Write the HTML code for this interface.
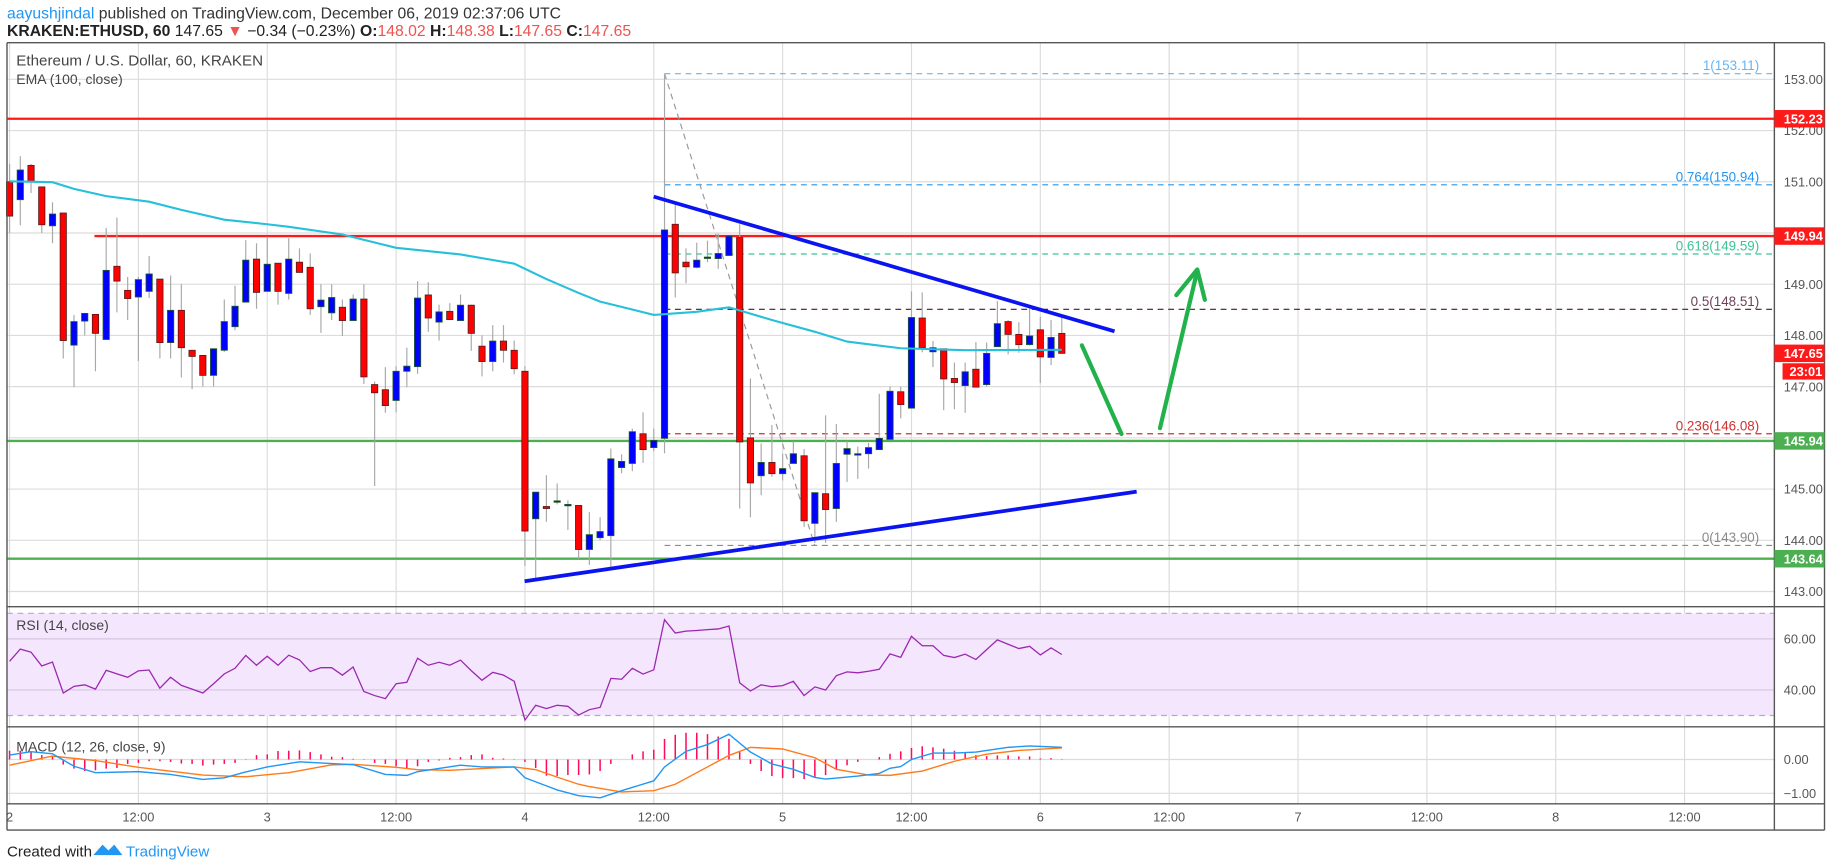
<!DOCTYPE html>
<html><head><meta charset="utf-8"><style>
html,body{margin:0;padding:0;background:#fff;}
svg{display:block;font-family:"Liberation Sans",sans-serif;}
</style></head><body>
<svg id="chart" width="1828" height="868" viewBox="0 0 1568 744" preserveAspectRatio="none" xmlns="http://www.w3.org/2000/svg">
<text x="6" y="16" font-size="13.5" fill="#333"><tspan fill="#2196f3">aayushjindal</tspan> published on TradingView.com, December 06, 2019 02:37:06 UTC</text>
<text x="6" y="31" font-size="13.5" fill="#222"><tspan font-weight="bold">KRAKEN:ETHUSD, 60</tspan> 147.65 <tspan fill="#ef5350">▼</tspan> −0.34 (−0.23%) <tspan font-weight="bold">O:</tspan><tspan fill="#ef5350">148.02</tspan> <tspan font-weight="bold">H:</tspan><tspan fill="#ef5350">148.38</tspan> <tspan font-weight="bold">L:</tspan><tspan fill="#ef5350">147.65</tspan> <tspan font-weight="bold">C:</tspan><tspan fill="#ef5350">147.65</tspan></text>
<rect x="6" y="520" width="1516" height="103" fill="none"/>
<g id="grid"></g>
<g id="levels"></g>
<g id="price"></g>
<g id="rsi"></g>
<g id="macd"></g>
<g id="frame"></g>
<g id="axis"></g>
<text x="14" y="56" font-size="13" fill="#444">Ethereum / U.S. Dollar, 60, KRAKEN</text>
<text x="14" y="72" font-size="12" fill="#444">EMA (100, close)</text>
<text x="14" y="540" font-size="12" fill="#444">RSI (14, close)</text>
<text x="14" y="644" font-size="12" fill="#444">MACD (12, 26, close, 9)</text>
<text x="6" y="734" font-size="13" fill="#222">Created with</text>
<path d="M80 733 L88 724 L93 729 L98 724 L105 733 Z" fill="#2196f3"/>
<text x="108" y="734" font-size="13" fill="#2196f3">TradingView</text>
</svg>
<script>
const opens=[151.0,150.65,151.32,150.9,150.14,150.39,147.81,148.28,148.41,147.92,149.35,148.88,148.75,148.86,149.1,147.86,148.49,147.71,147.61,147.22,147.71,148.17,148.65,149.49,148.86,149.41,148.82,149.43,149.33,148.56,148.44,148.55,148.29,148.71,147.04,146.94,146.73,147.3,147.39,148.79,148.26,148.47,148.29,148.59,147.79,147.49,147.89,147.71,147.3,144.42,144.66,144.76,144.70,144.68,143.82,144.05,144.09,145.42,145.5,146.08,145.81,145.99,150.17,149.43,149.33,149.52,149.5,149.56,149.91,146.0,145.26,145.52,145.3,145.5,145.65,144.33,144.91,144.62,145.68,145.68,145.69,145.77,145.97,146.9,146.58,148.34,147.68,147.74,147.16,147.02,147.34,147.04,147.78,148.27,148.02,147.82,148.11,147.57,148.04];
const highs=[151.35,151.5,151.35,150.9,150.6,150.39,148.4,148.43,148.41,150.1,150.3,149.14,149.14,149.55,149.1,149.17,149.0,147.71,147.61,147.74,148.7,148.97,149.86,149.8,149.93,149.41,149.9,149.7,149.6,149.0,149.0,148.7,148.8,149.0,147.1,147.38,147.4,147.76,149.06,149.04,148.6,148.63,148.8,148.6,148.0,148.2,148.2,147.9,147.4,144.94,145.27,145.11,144.78,144.68,144.55,144.45,145.79,145.68,146.18,146.5,146.18,153.11,150.58,149.7,149.81,149.85,149.99,149.94,150.17,147.16,145.89,146.25,145.69,145.93,145.78,144.93,146.44,146.27,145.94,145.83,145.9,146.86,147.0,147.0,148.86,148.84,147.89,147.74,147.47,147.47,147.87,147.86,148.67,148.3,148.26,148.56,148.36,148.3,148.35];
const lows=[150.0,150.15,150.78,150.0,149.8,147.55,146.99,148.0,147.3,147.92,148.45,148.3,147.5,148.73,147.55,147.55,147.18,146.95,147.0,147.0,147.68,148.1,148.65,148.52,148.86,148.6,148.7,149.23,148.4,148.05,148.3,147.99,148.29,147.05,145.06,146.49,146.5,146.99,147.25,148.07,147.9,148.3,148.29,147.7,147.2,147.3,147.47,147.24,143.5,143.26,144.36,144.7,144.2,143.64,143.52,144.0,143.48,145.31,145.35,145.51,145.74,145.7,148.74,149.02,149.31,149.43,149.3,149.56,144.62,144.45,144.88,145.24,145.17,145.5,144.26,143.95,143.95,144.36,145.14,145.2,145.4,145.77,145.97,146.38,146.58,147.67,147.38,146.54,146.56,146.49,146.99,147.0,147.78,147.63,147.66,147.8,147.07,147.42,147.65];
const closes=[150.33,151.23,151.01,150.16,150.37,147.9,148.27,148.43,148.04,149.27,149.06,148.72,149.09,149.2,147.86,148.49,147.76,147.59,147.22,147.74,148.27,148.57,149.47,148.84,149.39,148.86,149.49,149.23,148.52,148.69,148.74,148.29,148.71,147.19,146.88,146.63,147.3,147.4,148.73,148.34,148.46,148.31,148.59,148.04,147.49,147.89,147.71,147.35,144.18,144.94,144.62,144.77,144.70,143.82,144.11,144.17,145.59,145.54,146.12,145.77,145.95,150.06,149.22,149.34,149.47,149.53,149.6,149.94,145.92,145.12,145.52,145.3,145.4,145.69,144.38,144.93,144.6,145.5,145.79,145.69,145.81,145.99,146.91,146.65,148.35,147.76,147.76,147.15,147.08,147.29,146.99,147.65,148.23,148.02,147.82,147.99,147.58,147.96,147.65];
const emaIdx=[0,4,6,9,13,16,20,24,26,31,36,42,47,50,53,55,60,64,67,71,75,78,83,89,98];
const emaVal=[151.01,150.99,150.86,150.72,150.61,150.45,150.26,150.17,150.12,149.97,149.71,149.58,149.4,149.1,148.83,148.66,148.4,148.46,148.55,148.3,148.07,147.88,147.75,147.71,147.72];
const rsiVals=[51.25,55.99,54.8,49.4,50.9,38.8,41.4,42.0,40.3,47.7,46.3,45.0,47.5,47.8,40.7,45.0,41.8,40.3,38.8,42.4,46.3,48.5,53.5,49.7,53.2,49.7,53.6,51.8,47.2,48.7,48.7,45.8,49.0,39.4,37.8,36.6,42.4,43.0,52.4,49.7,50.8,49.7,51.7,47.6,43.8,46.9,45.8,43.4,28.2,34.0,32.7,34.0,33.6,30.2,32.3,33.2,44.5,44.2,48.5,46.2,47.9,67.5,62.3,63.0,63.3,63.6,63.9,65.0,42.8,39.6,42.0,41.3,41.7,43.4,37.8,41.2,40.0,45.6,47.1,46.7,47.3,48.1,54.1,52.8,61.0,57.3,57.3,53.5,52.7,54.0,51.9,55.8,59.6,57.9,56.2,57.1,53.7,56.5,53.9];
const macdIdx=[0,2,4,6,8,12,15,18,20,22,24,27,30,32,35,37,38,42,44,47,48,50,51,53,55,57,60,61,63,65,67,69,71,73,75,76,79,81,82,83,84,86,88,90,93,95,98];
const macdVal=[0.13,0.23,0.17,-0.2,-0.39,-0.36,-0.44,-0.59,-0.54,-0.37,-0.22,-0.07,-0.12,-0.15,-0.44,-0.47,-0.36,-0.17,-0.22,-0.22,-0.54,-0.78,-0.9,-1.07,-1.13,-0.92,-0.63,-0.22,0.24,0.44,0.75,0.22,-0.13,-0.29,-0.53,-0.58,-0.49,-0.41,-0.26,-0.21,0,0.19,0.19,0.22,0.36,0.4,0.36];
const sigIdx=[0,4,8,12,18,22,26,30,32,36,38,41,44,47,49,51,53,54,57,60,62,64,67,69,72,75,77,80,82,85,88,91,94,98];
const sigVal=[-0.17,0.1,-0.03,-0.23,-0.46,-0.51,-0.39,-0.16,-0.14,-0.23,-0.3,-0.32,-0.27,-0.22,-0.3,-0.52,-0.73,-0.8,-0.96,-0.92,-0.73,-0.39,0.12,0.36,0.31,0.05,-0.29,-0.46,-0.47,-0.34,-0.05,0.16,0.27,0.34];
const histVals=[0.26,0.26,0.22,0.13,0.1,-0.15,-0.27,-0.34,-0.32,-0.27,-0.25,-0.13,-0.1,-0.05,-0.05,-0.07,-0.12,-0.13,-0.18,-0.15,-0.13,-0.1,-0.01,0.13,0.15,0.25,0.26,0.27,0.22,0.15,0.08,0.07,0.02,0.01,-0.1,-0.13,-0.2,-0.26,-0.2,-0.07,-0.03,0.05,0.07,0.13,0.15,0.05,0.03,0.01,-0.07,-0.25,-0.48,-0.49,-0.46,-0.46,-0.44,-0.34,-0.13,0,0.15,0.24,0.29,0.61,0.73,0.79,0.79,0.75,0.68,0.61,0.22,-0.13,-0.34,-0.49,-0.55,-0.55,-0.58,-0.53,-0.46,-0.29,-0.17,-0.07,0,0.07,0.17,0.24,0.34,0.39,0.36,0.32,0.26,0.22,0.13,0.1,0.12,0.12,0.09,0.09,0.03,0.04,0.01];
const priceTicks=[153,152,151,150,149,148,147,146,145,144,143];
const rsiTicks=[60,40];
const macdTicks=[0,-1];
const dateIdx=[0,12,24,36,48,60,72,84,96,108,120,132,144,156];
const dateLabels=["2","12:00","3","12:00","4","12:00","5","12:00","6","12:00","7","12:00","8","12:00"];
const fibRatios=["1","0.764","0.618","0.5","0.236","0"];
const fibPrices=[153.11,150.94,149.59,148.51,146.08,143.90];
const fibColors=["#64b5f6","#2196f3","#3cc494","#4a1538","#d32f2f","#8a8a8a"];
const redLevels=[152.23,149.94];
const greenLevels=[145.94,143.64];

const NS="http://www.w3.org/2000/svg";
const X=i=>8.2+9.21*i, Y=p=>68+(153-p)*43.9, YR=r=>547.6+(60-r)*2.19, YM=m=>651-m*29;
const L=6,R=1522;
function mk(parent,tag,attrs,text){const e=document.createElementNS(NS,tag);for(const k in attrs)e.setAttribute(k,attrs[k]);if(text!==undefined)e.textContent=text;document.getElementById(parent).appendChild(e);return e;}

// grid
dateIdx.forEach((d,k)=>{const el=mk('grid','line',{x1:X(d),x2:X(d),y1:37,y2:689,stroke:'#dcdcdc','stroke-width':1});

});
priceTicks.forEach(p=>{const el=mk('grid','line',{x1:L,x2:R,y1:Y(p),y2:Y(p),stroke:'#dcdcdc','stroke-width':1});

});
{const el=mk('grid','rect',{x:L,y:YR(70),width:R-L,height:YR(30)-YR(70),fill:'#f3e6fd'});

}
[70,30].forEach(r=>{const el=mk('grid','line',{x1:L,x2:R,y1:YR(r),y2:YR(r),stroke:'#b9a7c4','stroke-dasharray':'5,4'});

});
rsiTicks.forEach(r=>{const el=mk('grid','line',{x1:L,x2:R,y1:YR(r),y2:YR(r),stroke:'#d6c6e0'});

});
macdTicks.forEach(m=>{const el=mk('grid','line',{x1:L,x2:R,y1:YM(m),y2:YM(m),stroke:'#dcdcdc'});

});

// horizontal levels
redLevels.forEach((p,k)=>{const el=mk('levels','line',{x1:k===0?L:81,x2:R,y1:Y(p),y2:Y(p),stroke:'#ff1a1a','stroke-width':2});

});
greenLevels.forEach(p=>{const el=mk('levels','line',{x1:L,x2:R,y1:Y(p),y2:Y(p),stroke:'#4caf50','stroke-width':2});

});
fibPrices.forEach((p,k)=>{const el=mk('levels','line',{x1:X(61),x2:R,y1:Y(p),y2:Y(p),stroke:fibColors[k],'stroke-dasharray':'5,4','stroke-width':1});


const t=mk('levels','text',{x:1509,y:Y(p)-3,'text-anchor':'end','font-size':11.5,fill:fibColors[k]==='#4a1538'?'#6d4258':fibColors[k]},fibRatios[k]+'('+p.toFixed(2)+')');

});
{const el=mk('levels','line',{x1:X(61),y1:Y(fibPrices[0]),x2:X(75),y2:Y(fibPrices[5]),stroke:'#999','stroke-dasharray':'5,4'});

}

// candles
for(let i=0;i<opens.length;i++){const up=closes[i]>=opens[i];
const w=mk('price','line',{x1:X(i),x2:X(i),y1:Y(highs[i]),y2:Y(lows[i]),stroke:'#a8a8a8','stroke-width':1});


const top=Y(Math.max(opens[i],closes[i])),bot=Y(Math.min(opens[i],closes[i]));
const b=mk('price','rect',{x:X(i)-2.7,y:top,width:5.4,height:Math.max(1.2,bot-top),fill:up?'#0000ff':'#ff0000',stroke:up?'#1f5a2a':'#5a1a1a','stroke-width':0.7});

}
{let d='';emaIdx.forEach((ix,k)=>{d+=(k?'L':'M')+X(ix).toFixed(1)+' '+Y(emaVal[k]).toFixed(1)+' ';});
const el=mk('price','path',{d:d,fill:'none',stroke:'#26c0da','stroke-width':1.8});

}
{const el=mk('price','line',{x1:560.7,y1:Y(150.71),x2:956,y2:Y(148.08),stroke:'#0a14f0','stroke-width':3.2});

}
{const el=mk('price','line',{x1:450,y1:Y(143.2),x2:975,y2:Y(144.95),stroke:'#0a14f0','stroke-width':3.2});

}
{const el=mk('price','path',{d:'M928 296 L962 372',stroke:'#22b24c','stroke-width':3.6,'stroke-linecap':'round',fill:'none'});

}
{const el=mk('price','path',{d:'M995 367 L1027 232 M1009 253 L1027 231 L1033.5 257',stroke:'#22b24c','stroke-width':3.6,'stroke-linecap':'round','stroke-linejoin':'round',fill:'none'});

}

// rsi
{let d='';rsiVals.forEach((r,i)=>{d+=(i?'L':'M')+X(i).toFixed(1)+' '+YR(r).toFixed(1)+' ';});
const el=mk('rsi','path',{d:d,fill:'none',stroke:'#9c27b0','stroke-width':1.1});

}

// macd
histVals.forEach((h,i)=>{const el=mk('macd','line',{x1:X(i),x2:X(i),y1:YM(0),y2:YM(h),stroke:'#ff0a5a','stroke-width':1.3});

});
{let d='';sigIdx.forEach((ix,k)=>{d+=(k?'L':'M')+X(ix).toFixed(1)+' '+YM(sigVal[k]).toFixed(1)+' ';});
const el=mk('macd','path',{d:d,fill:'none',stroke:'#ff7a1a','stroke-width':1.2});

}
{let d='';macdIdx.forEach((ix,k)=>{d+=(k?'L':'M')+X(ix).toFixed(1)+' '+YM(macdVal[k]).toFixed(1)+' ';});
const el=mk('macd','path',{d:d,fill:'none',stroke:'#2196f3','stroke-width':1.2});

}

// frame
[[L,36.6,1565,36.6],[L,36.6,L,711.5],[1565,36.6,1565,711.5],[R,36.6,R,711.5],[L,520,1565,520],[L,623,1565,623],[L,689,1565,689],[L,711.5,1565,711.5]].forEach(s=>{const el=mk('frame','line',{x1:s[0],y1:s[1],x2:s[2],y2:s[3],stroke:'#555','stroke-width':1.2});

});

// axes
priceTicks.forEach(p=>{const t=mk('axis','text',{x:1530,y:Y(p)+4,'font-size':11,fill:'#555'},p.toFixed(2));

});
rsiTicks.forEach(r=>{const t=mk('axis','text',{x:1530,y:YR(r)+4,'font-size':11,fill:'#555'},r.toFixed(2));

});
macdTicks.forEach(m=>{const t=mk('axis','text',{x:1530,y:YM(m)+4,'font-size':11,fill:'#555'},m===0?'0.00':'−1.00');

});
dateIdx.forEach((d,k)=>{const t=mk('axis','text',{x:X(d),y:704,'font-size':11,fill:'#555','text-anchor':'middle'},dateLabels[k]);

});
const badges=[[redLevels[0],'#ff1a1a',redLevels[0].toFixed(2)],[redLevels[1],'#ff1a1a',redLevels[1].toFixed(2)],[closes[closes.length-1],'#ff1a1a',closes[closes.length-1].toFixed(2)],[greenLevels[0],'#4caf50',greenLevels[0].toFixed(2)],[greenLevels[1],'#4caf50',greenLevels[1].toFixed(2)]];
badges.forEach(b=>{const r=mk('axis','rect',{x:R,y:Y(b[0])-7.5,width:43,height:15,fill:b[1]});


const t=mk('axis','text',{x:1530,y:Y(b[0])+4,'font-size':11,'font-weight':'bold',fill:'#fff'},b[2]);

});
{const r=mk('axis','rect',{x:1529,y:Y(closes[closes.length-1])+8.5,width:36,height:14,fill:'#ff1a1a'});


const t=mk('axis','text',{x:1535,y:Y(closes[closes.length-1])+19.5,'font-size':11,'font-weight':'bold',fill:'#fff'},'23:01');

}
</script>
</body></html>
